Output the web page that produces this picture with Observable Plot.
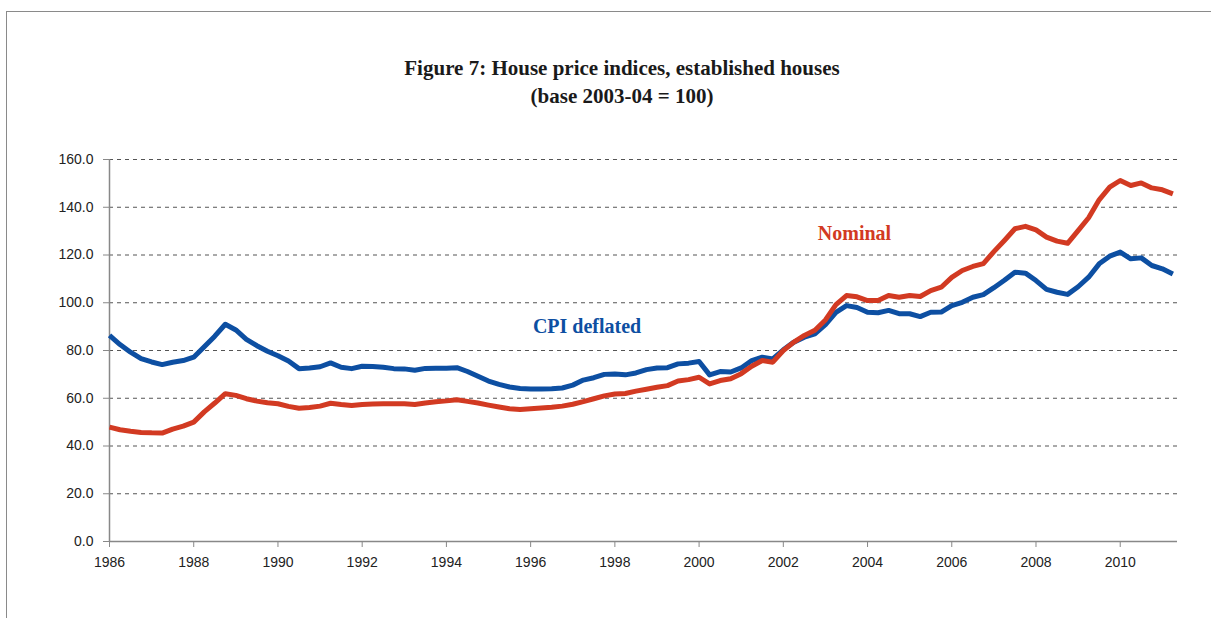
<!DOCTYPE html>
<html>
<head>
<meta charset="utf-8">
<script src="https://cdn.jsdelivr.net/npm/d3@7"></script>
<script src="https://cdn.jsdelivr.net/npm/@observablehq/plot@0.6"></script>
<style>
  html, body { margin: 0; padding: 0; background: #fff; width: 1211px; height: 618px; overflow: hidden; }
  #frame { position: absolute; left: 6px; top: 11px; right: -2px; bottom: -2px;
           border-top: 1.5px solid #8a8a8a; border-left: 1.5px solid #8a8a8a; pointer-events: none; }
  #head { position: relative; height: 130px; }
  #title { position: absolute; top: 54px; left: 0; width: 1211px; box-sizing: border-box; padding-left: 33px;
           text-align: center; font-family: "Liberation Serif", "DejaVu Serif", serif; font-weight: bold;
           font-size: 21px; line-height: 28px; color: #1a1a1a; }
  #chart svg { display: block; }
</style>
</head>
<body>
<div id="frame"></div>
<div id="head"><div id="title">Figure 7: House price indices, established houses<br>(base 2003-04 = 100)</div></div>
<div id="chart"></div>
<script>
// Quarterly observations (decimal years)
const quarters = [
  1986.00,1986.25,1986.50,1986.75,1987.00,1987.25,1987.50,1987.75,1988.00,1988.25,1988.50,1988.75,
  1989.00,1989.25,1989.50,1989.75,1990.00,1990.25,1990.50,1990.75,1991.00,1991.25,1991.50,1991.75,
  1992.00,1992.25,1992.50,1992.75,1993.00,1993.25,1993.50,1993.75,1994.00,1994.25,1994.50,1994.75,
  1995.00,1995.25,1995.50,1995.75,1996.00,1996.25,1996.50,1996.75,1997.00,1997.25,1997.50,1997.75,
  1998.00,1998.25,1998.50,1998.75,1999.00,1999.25,1999.50,1999.75,2000.00,2000.25,2000.50,2000.75,
  2001.00,2001.25,2001.50,2001.75,2002.00,2002.25,2002.50,2002.75,2003.00,2003.25,2003.50,2003.75,
  2004.00,2004.25,2004.50,2004.75,2005.00,2005.25,2005.50,2005.75,2006.00,2006.25,2006.50,2006.75,
  2007.00,2007.25,2007.50,2007.75,2008.00,2008.25,2008.50,2008.75,2009.00,2009.25,2009.50,2009.75,
  2010.00,2010.25,2010.50,2010.75,2011.00,2011.25
];

const cpiDeflated = [
  86.3,82.5,79.3,76.6,75.2,74.1,75.1,75.8,77.2,81.6,86.0,91.0,
  88.6,84.7,82.0,79.7,77.8,75.6,72.4,72.7,73.2,74.8,73.0,72.4,
  73.4,73.3,73.0,72.4,72.3,71.7,72.5,72.6,72.6,72.8,71.2,69.2,
  67.2,65.8,64.7,64.1,63.9,63.9,64.0,64.3,65.5,67.6,68.6,70.0,
  70.2,69.8,70.6,72.0,72.7,72.8,74.4,74.7,75.4,69.8,71.2,71.0,
  72.7,75.8,77.2,76.5,80.3,83.5,85.6,87.0,90.8,96.0,98.8,98.0,
  96.0,95.8,96.8,95.4,95.4,94.2,96.0,96.1,98.8,100.2,102.3,103.4,
  106.3,109.4,112.8,112.4,109.3,105.6,104.4,103.5,106.7,110.7,116.3,119.5,
  121.2,118.4,118.8,115.6,114.2,112.0
];

const nominal = [
  47.9,46.8,46.2,45.7,45.5,45.4,47.1,48.3,50.0,54.3,58.0,61.9,
  61.2,59.8,58.8,58.1,57.7,56.6,55.8,56.1,56.7,57.9,57.4,57.0,
  57.4,57.6,57.7,57.7,57.7,57.4,58.0,58.5,58.9,59.4,58.7,58.0,
  57.1,56.3,55.6,55.3,55.6,55.9,56.2,56.7,57.5,58.6,59.8,61.0,
  61.8,62.0,63.0,63.8,64.6,65.3,67.2,67.8,68.8,66.0,67.4,68.2,
  70.3,73.4,75.8,75.1,80.0,83.5,86.3,88.5,92.8,99.2,103.0,102.5,
  100.9,100.9,103.0,102.3,103.0,102.6,105.1,106.5,110.6,113.5,115.2,116.4,
  121.4,126.1,131.0,132.0,130.5,127.5,125.8,124.9,130.2,135.6,143.1,148.4,
  151.2,149.1,150.2,148.1,147.3,145.6
];

const xTicks = [1986,1988,1990,1992,1994,1996,1998,2000,2002,2004,2006,2008,2010];
const yTicks = [0,20,40,60,80,100,120,140,160];

const seriesNames = ["CPI deflated", "Nominal"];
const seriesColors = ["#0d4fa2", "#d23a22"];
const labelYear = [1997.34, 2003.69];
const labelValue = [90.1, 129.0];

const rows = [];
quarters.forEach((q, i) => {
  rows.push({date: q, value: cpiDeflated[i], series: seriesNames[0]});
});
quarters.forEach((q, i) => {
  rows.push({date: q, value: nominal[i], series: seriesNames[1]});
});
const labels = seriesNames.map((s, i) => ({series: s, x: labelYear[i], y: labelValue[i], color: seriesColors[i]}));

const chart = Plot.plot({
  width: 1211,
  height: 488,
  marginLeft: 109,
  marginRight: 34,
  marginTop: 29,
  marginBottom: 77,
  style: {fontFamily: "'Liberation Sans', Arial, sans-serif", fontSize: "14px", color: "#222", background: "transparent"},
  x: {domain: [1986, 2011.36]},
  y: {domain: [0, 160]},
  color: {domain: seriesNames, range: seriesColors},
  marks: [
    Plot.gridY(yTicks.filter(d => d > 0), {stroke: "#555", strokeOpacity: 1, strokeWidth: 1, strokeDasharray: "4,4"}),
    Plot.ruleY([0], {stroke: "#888", strokeWidth: 1.5}),
    Plot.ruleX([1986], {stroke: "#888", strokeWidth: 1.5}),
    Plot.axisY({ticks: yTicks, tickSize: 6, tickPadding: 10, tickFormat: d => d.toFixed(1), stroke: "#888", label: null, fill: "#222"}),
    Plot.axisX({ticks: xTicks, tickSize: 6, tickPadding: 10, tickFormat: d => String(d), stroke: "#888", label: null, fill: "#222"}),
    Plot.line(rows, {x: "date", y: "value", z: "series", stroke: "series", strokeWidth: 5, strokeLinejoin: "round", strokeLinecap: "butt"}),
    Plot.text(labels, {x: "x", y: "y", text: "series", fill: "color", fontFamily: "'Liberation Serif', 'DejaVu Serif', serif", fontWeight: "bold", fontSize: 20})
  ]
});
document.getElementById("chart").appendChild(chart);
</script>
</body>
</html>
